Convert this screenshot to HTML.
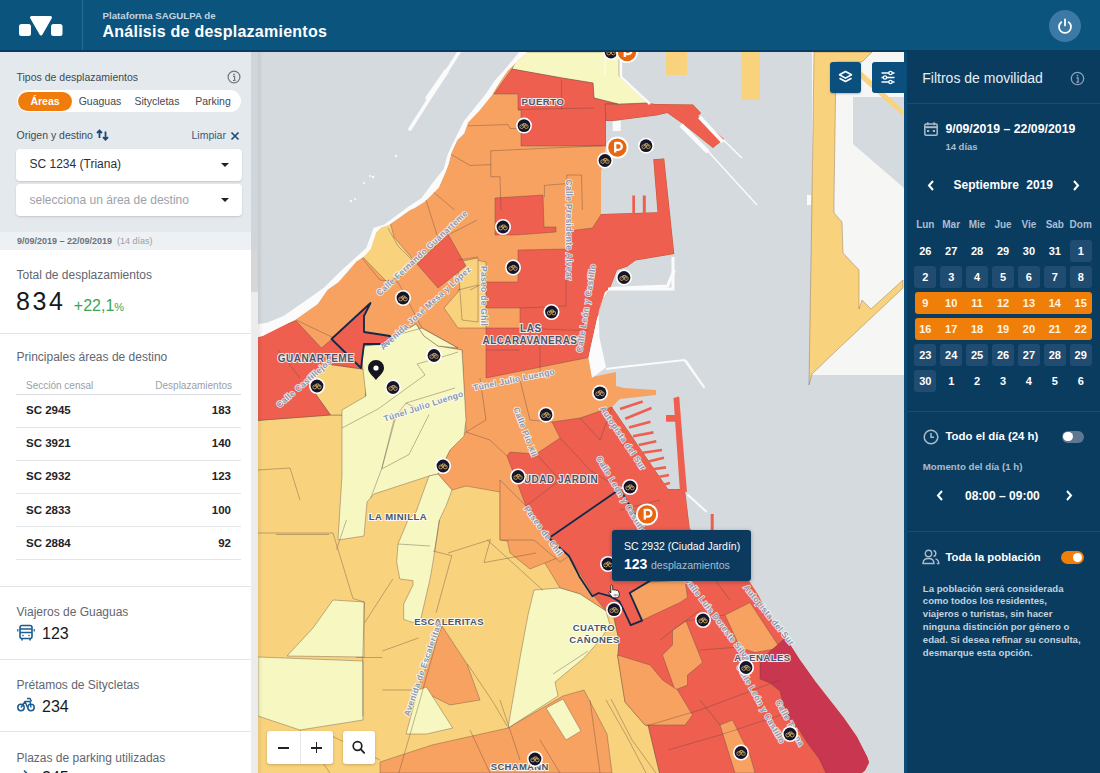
<!DOCTYPE html>
<html><head><meta charset="utf-8">
<style>
*{box-sizing:border-box;margin:0;padding:0}
html,body{width:1100px;height:773px;overflow:hidden;font-family:"Liberation Sans",sans-serif;background:#fff}
.abs{position:absolute}
#hdr{position:absolute;z-index:5;left:0;top:0;width:1100px;height:52px;background:#0b547e;border-bottom:2px solid #083d60}
#hdr .div{position:absolute;left:82px;top:0;width:1px;height:50px;background:#2a6c99}
#hdr .t1{position:absolute;left:102.5px;top:11.2px;font-size:9.7px;line-height:1;font-weight:bold;color:#c3d3e2;white-space:nowrap}
#hdr .t2{position:absolute;left:102.5px;top:24px;font-size:16px;line-height:1;letter-spacing:.25px;font-weight:bold;color:#fff;white-space:nowrap}
#pwr{position:absolute;left:1048.5px;top:10px;width:32px;height:32px;border-radius:50%;background:#3b7aa5}
#left{position:absolute;left:0;top:0;width:251px;height:773px;background:#fff;overflow:hidden}
#left .filt{position:absolute;left:0;top:52px;width:251px;height:180px;background:#e4e9ee}
#left .strip{position:absolute;left:0;top:232px;width:251px;height:18px;background:#edf1f4}
.t{position:absolute;line-height:1;white-space:nowrap}
#sb{position:absolute;left:251px;top:52px;width:7px;height:721px;background:#ececec}
#map{position:absolute;left:258px;top:52px;width:646px;height:721px;overflow:hidden;background:#d5dade}
#right{position:absolute;left:904px;top:0;width:196px;height:773px;background:#0a3c5f}
#rb{position:absolute;left:904px;top:52px;width:3px;height:721px;background:#0b4b77;z-index:2}
.lbl{font-size:10.5px;color:#414952}
.sel{position:absolute;left:16px;width:226px;height:32px;background:#fff;border-radius:4px;box-shadow:0 1px 2px rgba(0,0,0,.15)}
.sel span{position:absolute;left:13.5px;top:9.8px;font-size:12px;line-height:1;color:#2a2f36}
.sel i{position:absolute;right:13px;top:14px;width:0;height:0;border-left:4px solid transparent;border-right:4px solid transparent;border-top:4px solid #222}
.sec{position:absolute;left:16px;font-size:12px;color:#5f6670;white-space:nowrap}
.hr{position:absolute;left:0;width:251px;height:1px;background:#e2e5e8}
.row{position:absolute;left:16px;width:225px;height:33px;border-bottom:1px solid #e3e6e9}
.row b{position:absolute;left:10px;top:10.8px;font-size:11.5px;color:#1f2328;line-height:1}
.row b.r{left:auto;right:10px}
.rp{color:#e6eef5}
.cal{position:absolute;width:22px;height:22px;border-radius:3px;font-size:11px;font-weight:bold;color:#fff;text-align:center;line-height:22px}
.cal.b{background:#1f4c70}
.dh{position:absolute;top:219px;width:26px;text-align:center;font-size:10px;font-weight:bold;color:#a9bfd2}
.orow{position:absolute;left:915px;width:177px;height:22px;background:#f07f0a;border-radius:3px}
</style></head>
<body>
<div id="hdr">
  <svg class="abs" style="left:0;top:0" width="82" height="50" viewBox="0 0 82 50">
    <rect x="19" y="24" width="12" height="12" rx="2.5" fill="#fff"/>
    <rect x="51" y="24" width="11.5" height="12" rx="2.5" fill="#fff"/>
    <path d="M31.5 17.5 L50.5 17.5 L41 34 Z" fill="#fff" stroke="#fff" stroke-width="3" stroke-linejoin="round"/>
  </svg>
  <div class="div"></div>
  <div class="t1">Plataforma SAGULPA de</div>
  <div class="t2">Análisis de desplazamientos</div>
  <div id="pwr">
    <svg width="32" height="32" viewBox="0 0 32 32"><path d="M12.3 12.2 A6 6 0 1 0 19.7 12.2" fill="none" stroke="#fff" stroke-width="1.8" stroke-linecap="round"/><line x1="16" y1="9.4" x2="16" y2="15.4" stroke="#fff" stroke-width="1.8" stroke-linecap="round"/></svg>
  </div>
</div>

<div id="left">
  <div class="filt"></div>
  <div class="strip"></div>
  <div class="t" style="left:16.5px;top:71.8px;font-size:10.5px;color:#414952">Tipos de desplazamientos</div>
  <svg class="abs" style="left:227px;top:70px" width="14" height="14" viewBox="0 0 14 14"><circle cx="7" cy="7" r="5.9" fill="none" stroke="#6e767e" stroke-width="1.2"/><circle cx="7" cy="4.3" r=".9" fill="#6e767e"/><path d="M6 6.3h1.6v4.2M6 10.5h2.6" stroke="#6e767e" stroke-width="1.2" fill="none"/></svg>
  <div class="abs" style="left:17px;top:90px;width:224px;height:22px;border-radius:11px;background:#fff"></div>
  <div class="abs" style="left:18px;top:92px;width:54px;height:19px;border-radius:10px;background:#f07d0b"></div>
  <div class="t" style="left:18px;width:54px;text-align:center;top:96px;font-size:10.5px;font-weight:bold;color:#fff">Áreas</div>
  <div class="t" style="left:70px;width:60px;text-align:center;top:96px;font-size:10.5px;color:#414952">Guaguas</div>
  <div class="t" style="left:126px;width:62px;text-align:center;top:96px;font-size:10.5px;color:#414952">Sitycletas</div>
  <div class="t" style="left:183px;width:60px;text-align:center;top:96px;font-size:10.5px;color:#414952">Parking</div>
  <div class="t" style="left:16.5px;top:130px;font-size:10.5px;color:#414952">Origen y destino</div>
  <svg class="abs" style="left:96px;top:129px" width="14" height="12" viewBox="0 0 14 12"><path d="M3.5 9V1.5M1 4l2.5-2.5L6 4M9.5 2.5v8.5M7 8.2l2.5 2.5L12 8.2" stroke="#184a78" stroke-width="1.8" fill="none"/></svg>
  <div class="t" style="left:191.5px;top:130px;font-size:10.5px;color:#3b5a7b">Limpiar</div>
  <svg class="abs" style="left:230px;top:131px" width="10" height="10" viewBox="0 0 10 10"><path d="M1.5 1.5l7 7M8.5 1.5l-7 7" stroke="#184a78" stroke-width="1.6"/></svg>
  <div class="sel" style="top:148.5px"><span>SC 1234 (Triana)</span><i></i></div>
  <div class="sel" style="top:184px"><span style="color:#9ba1a8">selecciona un área de destino</span><i></i></div>
  <div class="t" style="left:17px;top:237.2px;font-size:9px;font-weight:bold;color:#6b737b">9/09/2019 – 22/09/2019 <span style="font-weight:normal;color:#9aa0a6">&nbsp;(14 días)</span></div>
  <div class="t" style="left:16.5px;top:269.3px;font-size:12px;color:#5f6670">Total de desplazamientos</div>
  <div class="t" style="left:16px;top:289.4px;font-size:25px;color:#16191d;letter-spacing:2.6px">834</div>
  <div class="t" style="left:73.8px;top:297.5px;font-size:16px;color:#3aa655">+22,1<span style="font-size:11px">%</span></div>
  <div class="hr" style="top:332.5px"></div>
  <div class="t" style="left:16.5px;top:351.4px;font-size:12px;color:#5f6670">Principales áreas de destino</div>
  <div class="t" style="left:26px;top:381px;font-size:10px;color:#9aa0a6">Sección censal</div>
  <div class="t" style="left:151px;width:81px;text-align:right;top:381px;font-size:10px;color:#9aa0a6">Desplazamientos</div>
  <div class="abs" style="left:16px;top:393.5px;width:225px;height:1.5px;background:#d9dde1"></div>
  <div class="row" style="top:394.5px"><b >SC 2945</b><b class="r" >183</b></div>
  <div class="row" style="top:427.6px"><b >SC 3921</b><b class="r" >140</b></div>
  <div class="row" style="top:460.7px"><b >SC 2932</b><b class="r" >123</b></div>
  <div class="row" style="top:493.8px"><b >SC 2833</b><b class="r" >100</b></div>
  <div class="row" style="top:526.9px"><b >SC 2884</b><b class="r" >92</b></div>
  
  <div class="hr" style="top:586px"></div>
  <div class="t" style="left:16.5px;top:605.5px;font-size:12px;color:#5f6670">Viajeros de Guaguas</div>
  <svg class="abs" style="left:17px;top:624px" width="18" height="17" viewBox="0 0 18 17"><rect x="3" y="1.5" width="12" height="13" rx="2" fill="none" stroke="#1b5c91" stroke-width="1.6"/><path d="M3 8.5h12M3 5h12" stroke="#1b5c91" stroke-width="1.4"/><path d="M5 14.5v2M13 14.5v2" stroke="#1b5c91" stroke-width="1.6"/><path d="M.8 5v2.5M17.2 5v2.5" stroke="#1b5c91" stroke-width="1.2"/><circle cx="6" cy="11.5" r=".8" fill="#1b5c91"/><circle cx="12" cy="11.5" r=".8" fill="#1b5c91"/></svg>
  <div class="t" style="left:42px;top:625.8px;font-size:16px;color:#16191d">123</div>
  <div class="hr" style="top:659px"></div>
  <div class="t" style="left:16.5px;top:678.5px;font-size:12px;color:#5f6670">Prétamos de Sitycletas</div>
  <svg class="abs" style="left:17px;top:697px" width="18" height="15" viewBox="0 0 18 15"><circle cx="4" cy="10.5" r="3.2" fill="none" stroke="#1b5c91" stroke-width="1.5"/><circle cx="14" cy="10.5" r="3.2" fill="none" stroke="#1b5c91" stroke-width="1.5"/><path d="M4 10.5l4-6h5l1 6M8 4.5l2.5 6M10 1.5h3l1.5 3" stroke="#1b5c91" stroke-width="1.4" fill="none"/></svg>
  <div class="t" style="left:42px;top:698.5px;font-size:16px;color:#16191d">234</div>
  <div class="hr" style="top:731px"></div>
  <div class="t" style="left:16.5px;top:751.8px;font-size:12px;color:#5f6670">Plazas de parking utilizadas</div>
  <div class="t" style="left:42px;top:770.3px;font-size:16px;color:#16191d">245</div>
  <svg class="abs" style="left:21px;top:768.5px" width="18" height="15" viewBox="0 0 18 15"><path d="M3 1.5l4 4" stroke="#1b5c91" stroke-width="1.6"/></svg>
</div>
<div class="abs" style="left:258px;top:52px;width:5px;height:721px;background:linear-gradient(90deg,rgba(0,0,0,.07),rgba(0,0,0,0));z-index:2"></div>
<div id="sb"><div class="abs" style="left:0;top:0;width:7px;height:198px;background:#cfd5da"></div><div class="abs" style="left:0;top:198px;width:7px;height:42px;background:#d6d6d6"></div></div>

<div id="map"><svg width="646" height="721" viewBox="258 52 646 721" style="position:absolute;left:0;top:0">
<rect x="258" y="52" width="646" height="721" fill="#d5dade"/>
<polygon points="834,52 904,52 904,375 812,375 812,52" fill="#f6f6f5"/>
<polygon points="853,97 904,97 904,188 853,144" fill="#d5dade"/>
<polygon points="852,146 904,192 904,280 862,300 859,270 843,253 842,222 834,213" fill="#d5dade" opacity="0"/>
<polygon points="814,52 872,52 862,62 836,62 834,200 834,213 842,222 843,253 859,270 859,309 862,300 871,309 903,280 903,288 837,350 812,374 809,385 812,200" fill="#f9d27d" stroke="rgba(95,70,60,.55)" stroke-width=".6"/>
<polygon points="862,72 903,110 903,116 858,76" fill="#f9d27d"/>
<rect x="666" y="50" width="21" height="25" fill="#f9d27d"/>
<rect x="741" y="50" width="19" height="50" fill="#f9d27d"/>
<polygon points="527,52 619,52 619,76 648,103 655.3,104 693,104.6 701,113 698,116 724,139 713,148 683,124 667.3,113 656.4,115.5 612.7,121 606,121 606,146 601,172 601,214 657.5,212.3 653.3,159.3 664.2,158.4 674.3,254 635.5,260.5 627,266.8 617,270 610,288.5 603.6,298.6 597,318.8 591,345.7 588.5,357.5 592,377 616,372 616,386 624,388 656,390 656,395 620,399 612,407 668,489 684,489 676,397.5 679.6,397.5 684.3,480 685.4,493.2 689.8,528.4 749.2,581.2 758,594.4 766.8,612 777.8,629.6 785.7,637.8 799.6,659.6 815.4,681.4 829.3,699.2 843.2,717 857,736.8 867,756.6 869,762.6 865,770.5 859,775 256,775 256,337.5 262.6,335.9 278,328.2 295.6,319.4 317.6,304 327.5,289.7 338.5,282 349,270 356.3,261.6 364.4,256.2 370.8,249 373.5,240.8 376.2,232.6 381.6,227.2 388,225.4 398.8,218 410,210 414.6,208 425.2,201.2 434,192.4 438.8,187.6 445.6,172 448.5,164.3 451.5,152.6 457.3,140 464.1,133.4 468,122.6 479.7,110.2 492,95 496.2,87.8 502.6,78 507.8,70.4 512.5,66.3 527,52" fill="#f8a262"/>
<clipPath id="landclip"><polygon points="527,52 619,52 619,76 648,103 655.3,104 693,104.6 701,113 698,116 724,139 713,148 683,124 667.3,113 656.4,115.5 612.7,121 606,121 606,146 601,172 601,214 657.5,212.3 653.3,159.3 664.2,158.4 674.3,254 635.5,260.5 627,266.8 617,270 610,288.5 603.6,298.6 597,318.8 591,345.7 588.5,357.5 592,377 616,372 616,386 624,388 656,390 656,395 620,399 612,407 668,489 684,489 676,397.5 679.6,397.5 684.3,480 685.4,493.2 689.8,528.4 749.2,581.2 758,594.4 766.8,612 777.8,629.6 785.7,637.8 799.6,659.6 815.4,681.4 829.3,699.2 843.2,717 857,736.8 867,756.6 869,762.6 865,770.5 859,775 256,775 256,337.5 262.6,335.9 278,328.2 295.6,319.4 317.6,304 327.5,289.7 338.5,282 349,270 356.3,261.6 364.4,256.2 370.8,249 373.5,240.8 376.2,232.6 381.6,227.2 388,225.4 398.8,218 410,210 414.6,208 425.2,201.2 434,192.4 438.8,187.6 445.6,172 448.5,164.3 451.5,152.6 457.3,140 464.1,133.4 468,122.6 479.7,110.2 492,95 496.2,87.8 502.6,78 507.8,70.4 512.5,66.3 527,52"/></clipPath><g clip-path="url(#landclip)">
<polygon points="250,421 330.5,415 345,415 365,402 366.7,371.5 362,369 364,346 386,344 390,340 416,324 424,336 438,346 462,350 466,432 450,450 442,466 438,474 452,490 466,486 500,492 500,540 534,545 560,588 580,594 606,611 614,618 619,640 618,656 645,712 660,775 256,775" fill="#f9d27d" stroke="rgba(95,70,60,.55)" stroke-width=".7" stroke-linejoin="round"/>
<polygon points="327,364 362,369 366.7,371.5 365,402 345,415 330.5,415 307,382" fill="#f9d27d" stroke="rgba(95,70,60,.55)" stroke-width=".7" stroke-linejoin="round"/>
<polygon points="384,218 390,222 394,237 412.6,259 400,277 386,281 358,252" fill="#f9d27d" stroke="rgba(95,70,60,.55)" stroke-width=".7" stroke-linejoin="round"/>
<polygon points="444,308 458,292 476,260 486,262 486,328 458,328" fill="#f9d27d" stroke="rgba(95,70,60,.55)" stroke-width=".7" stroke-linejoin="round"/>
<polygon points="458,262 478,258 478,322 462,320" fill="#f9d27d" stroke="rgba(95,70,60,.55)" stroke-width=".7" stroke-linejoin="round"/>
<polygon points="442,626 467,664 480,700 450,705 430,695 418,688" fill="#f8a262" stroke="rgba(95,70,60,.55)" stroke-width=".7" stroke-linejoin="round"/>
<polygon points="380,773 380,762 432,745 508,728 563,696 584,690 607,734 612,773" fill="#f8a262" stroke="rgba(95,70,60,.55)" stroke-width=".7" stroke-linejoin="round"/>
<polygon points="503,520 536,520 562,556 530,569 510,553" fill="#f8a262" stroke="rgba(95,70,60,.55)" stroke-width=".7" stroke-linejoin="round"/>
<polygon points="500,480 526,506 549,538 569,556 560,562 534,540 500,540" fill="#f8a262" stroke="rgba(95,70,60,.55)" stroke-width=".7" stroke-linejoin="round"/>
<polygon points="617.5,655 650,665 662.5,680 677.5,690 692.5,715 685,725 645,725 625,702" fill="#f8a262" stroke="rgba(95,70,60,.55)" stroke-width=".7" stroke-linejoin="round"/>
<polygon points="364,346 386,344 390,340 416,324 424,336 438,346 462,350 466,420 464,436 450,450 442,466 438,474 429,476 374,494 367,502 364,536 338,540 342,475 342,410 366,396 362,360" fill="#f7f7c2" stroke="rgba(95,70,60,.55)" stroke-width=".7" stroke-linejoin="round"/>
<polygon points="429,476 438,474 452,490 446,506 439.4,520 433,562 430,579 420.7,619.4 413,622.5 403.7,619.4 403.7,604 413,585 413,580.6 399.8,579 396.7,562 398,544 408,520 416,512" fill="#f7f7c2" stroke="rgba(95,70,60,.55)" stroke-width=".7" stroke-linejoin="round"/>
<polygon points="333,600 364,602 364,657 287,656 313,628" fill="#f7f7c2" stroke="rgba(95,70,60,.55)" stroke-width=".7" stroke-linejoin="round"/>
<polygon points="258,657 363,661 363,720 300,730 258,716" fill="#f7f7c2" stroke="rgba(95,70,60,.55)" stroke-width=".7" stroke-linejoin="round"/>
<polygon points="534,590 560,588 580,594 606,611 610,625 600,640 584,658 555,682 558,696 508,728 520,658 528,615" fill="#f7f7c2" stroke="rgba(95,70,60,.55)" stroke-width=".7" stroke-linejoin="round"/>
<polygon points="418,690 426.5,687 452.7,728 426.5,734 406,734" fill="#f7f7c2" stroke="rgba(95,70,60,.55)" stroke-width=".7" stroke-linejoin="round"/>
<polygon points="546,708 563,699 581,731 566,740" fill="#f7f7c2" stroke="rgba(95,70,60,.55)" stroke-width=".7" stroke-linejoin="round"/>
<polygon points="386,338 422,328 458,348 438,346 424,336 416,324 390,340" fill="#f7f7c2" stroke="rgba(95,70,60,.55)" stroke-width=".7" stroke-linejoin="round"/>
<polygon points="521,52 619,52 619,76 648,103 618,104 594,98 593,83 562,78 512,69" fill="#f7f7c2" stroke="rgba(95,70,60,.55)" stroke-width=".7" stroke-linejoin="round"/>
<polygon points="512,69 562,78 593,83 594,98 618,104 606,104 606,146 521,146 521,110 518,110 518,94 494,94" fill="#ee5f50" stroke="rgba(95,70,60,.55)" stroke-width=".7" stroke-linejoin="round"/>
<polygon points="605,104 618,104.5 648,103 655.3,104 693,104.6 701,113 698,116 724,139 713,148 683,124 667.3,113 656.4,115.5 612.7,121 606,121" fill="#ee5f50" stroke="rgba(95,70,60,.55)" stroke-width=".7" stroke-linejoin="round"/>
<polygon points="495,198 543,195 544,227 556,227 556,232 516,235 495,235" fill="#ee5f50" stroke="rgba(95,70,60,.55)" stroke-width=".7" stroke-linejoin="round"/>
<polygon points="417,264 448,234 466,266 438,288" fill="#ee5f50" stroke="rgba(95,70,60,.55)" stroke-width=".7" stroke-linejoin="round"/>
<polygon points="518,250 568,249 568,231 592.5,228 601.5,214 657.5,212.3 653.3,159.3 664.2,158.4 674.3,254 635.5,260.5 627,266.8 617,270 610,288.5 603.6,298.6 597,318.8 591,345.7 588.5,357.5 486,378 486,328 520,328 520,308 486,308 486,282 518,282" fill="#ee5f50" stroke="rgba(95,70,60,.55)" stroke-width=".7" stroke-linejoin="round"/>
<polygon points="250,337 296,320.8 321.4,348 332,339 362,369 327,364 307,382 330.5,415 250,421" fill="#ee5f50" stroke="rgba(95,70,60,.55)" stroke-width=".7" stroke-linejoin="round"/>
<polygon points="370.5,303 364,316 364,332 390,336 391,340 386,344 364,344 361,368 331.5,339" fill="#ee5f50" stroke="rgba(95,70,60,.55)" stroke-width=".7" stroke-linejoin="round"/>
<polygon points="612,407 668,489 684,489 686,497 689,524 750,581 768,605 786,635 804,665 822,695 840,722 858,743 868,758 870,767 864,773 660,775 645,712 618,656 619,640 614,618 606,611 594,596 569,556 549,538 526,506 507,456 510,452 536,454 560,438 552,422 580,418" fill="#ee5f50" stroke="rgba(95,70,60,.55)" stroke-width=".7" stroke-linejoin="round"/>
<polygon points="630,592.5 650,582 685,580 687.5,597.5 680,602.5 642.5,620" fill="#f8a262" stroke="rgba(95,70,60,.55)" stroke-width=".7" stroke-linejoin="round"/>
<polygon points="725,615 750,602.5 780,648 755,652.5 740,647.5" fill="#f8a262" stroke="rgba(95,70,60,.55)" stroke-width=".7" stroke-linejoin="round"/>
<polygon points="662.5,655 672.5,645 672.5,630 686,621 702.5,662.5 687.5,675 687.5,685 675,690" fill="#f8a262" stroke="rgba(95,70,60,.55)" stroke-width=".7" stroke-linejoin="round"/>
<polygon points="617.5,655 650,665 662.5,680 677.5,690 692.5,715 685,725 645,725 625,702" fill="#f8a262" stroke="rgba(95,70,60,.55)" stroke-width=".7" stroke-linejoin="round"/>
<polygon points="720,725 732.5,720 750,755 755,773 735,773" fill="#f8a262" stroke="rgba(95,70,60,.55)" stroke-width=".7" stroke-linejoin="round"/>
<polygon points="785.7,637.8 760,660 760,679 770,683 780,691 782,699 790,719 800,731 807.5,743 819,758.6 827,775 870,775 900,740 800,630" fill="#c8364f" stroke="rgba(95,70,60,.55)" stroke-width=".7" stroke-linejoin="round"/>
</g>
<polygon points="520,51 505,69.2 495,80.3 485,95 464,121 454.4,140 447.6,154.6 443.7,169 432,183.7 421.4,198.3 410,205.4 384.3,224.5 373.5,228 370,238 366.2,248 357.2,256.2 341.8,270 324.2,287.5 305.5,300.7 283.5,316 267,322.7 256,324.4 256,337.5 262.6,335.9 278,328.2 295.6,319.4 317.6,304 327.5,289.7 338.5,282 349,270 356.3,261.6 364.4,256.2 370.8,249 373.5,240.8 376.2,232.6 381.6,227.2 388,225.4 398.8,218 410,210 414.6,208 425.2,201.2 434,192.4 438.8,187.6 445.6,172 448.5,164.3 451.5,152.6 457.3,140 464.1,133.4 468,122.6 479.7,110.2 492,95 496.2,87.8 502.6,78 507.8,70.4 512.5,66.3 527,52" fill="#fbfbfb"/>
<polyline points="561.6,80 561.6,109.4" fill="none" stroke="rgba(95,70,60,.55)" stroke-width=".7"/>
<polyline points="519,109.4 594,108" fill="none" stroke="rgba(95,70,60,.55)" stroke-width=".7"/>
<polyline points="468,125.8 508,124.6 510,128.4 521,129" fill="none" stroke="rgba(95,70,60,.55)" stroke-width=".7"/>
<polyline points="490.8,150.8 603,145.6" fill="none" stroke="rgba(95,70,60,.55)" stroke-width=".7"/>
<polyline points="451,154.3 470,165.5 490.8,164.6" fill="none" stroke="rgba(95,70,60,.55)" stroke-width=".7"/>
<polyline points="490.8,150.8 490.8,176.7 500,176.7 501,210" fill="none" stroke="rgba(95,70,60,.55)" stroke-width=".7"/>
<polyline points="544.4,185.4 566.8,183.6 566.8,175 581.5,175 582.4,210" fill="none" stroke="rgba(95,70,60,.55)" stroke-width=".7"/>
<polyline points="544.4,185.4 544.4,197" fill="none" stroke="rgba(95,70,60,.55)" stroke-width=".7"/>
<polyline points="433.8,192.3 454.5,210" fill="none" stroke="rgba(95,70,60,.55)" stroke-width=".7"/>
<polyline points="388,228 398,246 416,264" fill="none" stroke="rgba(95,70,60,.55)" stroke-width=".7"/>
<polyline points="362,258 380,280 398,282" fill="none" stroke="rgba(95,70,60,.55)" stroke-width=".7"/>
<polyline points="426,200 438,238" fill="none" stroke="rgba(95,70,60,.55)" stroke-width=".7"/>
<polyline points="450,234 477,220" fill="none" stroke="rgba(95,70,60,.55)" stroke-width=".7"/>
<polyline points="458,260 478,257" fill="none" stroke="rgba(95,70,60,.55)" stroke-width=".7"/>
<polyline points="394.4,418 381.6,469 370.7,498" fill="none" stroke="rgba(95,70,60,.55)" stroke-width=".7"/>
<polyline points="381.6,469 409,454.5 429,414.5" fill="none" stroke="rgba(95,70,60,.55)" stroke-width=".7"/>
<polyline points="276,534.5 329,534.5" fill="none" stroke="rgba(95,70,60,.55)" stroke-width=".7"/>
<polyline points="258,533 333,533 338,549.5 353,598.6 364.4,602" fill="none" stroke="rgba(95,70,60,.55)" stroke-width=".7"/>
<polyline points="336.6,549.5 346.4,520" fill="none" stroke="rgba(95,70,60,.55)" stroke-width=".7"/>
<polyline points="364.4,602 362.8,657.5 362.8,716.4" fill="none" stroke="rgba(95,70,60,.55)" stroke-width=".7"/>
<polyline points="356,657.5 382.4,657.5" fill="none" stroke="rgba(95,70,60,.55)" stroke-width=".7"/>
<polyline points="392.8,579 364.8,622.5" fill="none" stroke="rgba(95,70,60,.55)" stroke-width=".7"/>
<polyline points="398,544 430,546" fill="none" stroke="rgba(95,70,60,.55)" stroke-width=".7"/>
<polyline points="433,551 451.8,555.7 436,613" fill="none" stroke="rgba(95,70,60,.55)" stroke-width=".7"/>
<polyline points="441,625 420,700 398.8,773" fill="none" stroke="rgba(95,70,60,.55)" stroke-width=".7"/>
<polyline points="418.4,638 382.4,651" fill="none" stroke="rgba(95,70,60,.55)" stroke-width=".7"/>
<polyline points="382.4,690 412,690" fill="none" stroke="rgba(95,70,60,.55)" stroke-width=".7"/>
<polyline points="439.4,520 434.7,551" fill="none" stroke="rgba(95,70,60,.55)" stroke-width=".7"/>
<polyline points="448,553 490.4,539.6 484,562.6 536,553" fill="none" stroke="rgba(95,70,60,.55)" stroke-width=".7"/>
<polyline points="487,539.6 543,590.4" fill="none" stroke="rgba(95,70,60,.55)" stroke-width=".7"/>
<polyline points="467.5,664 493.7,703 507,726" fill="none" stroke="rgba(95,70,60,.55)" stroke-width=".7"/>
<polyline points="588,651 553,674" fill="none" stroke="rgba(95,70,60,.55)" stroke-width=".7"/>
<polyline points="258,470 290,468 300,500" fill="none" stroke="rgba(95,70,60,.55)" stroke-width=".7"/>
<polyline points="300,730 330,773" fill="none" stroke="rgba(95,70,60,.55)" stroke-width=".7"/>
<polyline points="330,735 380,760" fill="none" stroke="rgba(95,70,60,.55)" stroke-width=".7"/>
<polyline points="470,730 490,773" fill="none" stroke="rgba(95,70,60,.55)" stroke-width=".7"/>
<polyline points="540,740 560,773" fill="none" stroke="rgba(95,70,60,.55)" stroke-width=".7"/>
<polyline points="500,700 520,760" fill="none" stroke="rgba(95,70,60,.55)" stroke-width=".7"/>
<polyline points="590,700 600,773" fill="none" stroke="rgba(95,70,60,.55)" stroke-width=".7"/>
<polyline points="466,432 490,440 507,456" fill="none" stroke="rgba(95,70,60,.55)" stroke-width=".7"/>
<polyline points="480,378 486,420 466,432" fill="none" stroke="rgba(95,70,60,.55)" stroke-width=".7"/>
<polyline points="520,380 530,420 552,422" fill="none" stroke="rgba(95,70,60,.55)" stroke-width=".7"/>
<polyline points="536,454 560,480 526,506" fill="none" stroke="rgba(95,70,60,.55)" stroke-width=".7"/>
<polyline points="560,438 590,470 620,489" fill="none" stroke="rgba(95,70,60,.55)" stroke-width=".7"/>
<polyline points="580,418 600,440 612,407" fill="none" stroke="rgba(95,70,60,.55)" stroke-width=".7"/>
<polyline points="640,560 690,540" fill="none" stroke="rgba(95,70,60,.55)" stroke-width=".7"/>
<polyline points="620,510 660,500" fill="none" stroke="rgba(95,70,60,.55)" stroke-width=".7"/>
<polyline points="700,560 730,600" fill="none" stroke="rgba(95,70,60,.55)" stroke-width=".7"/>
<polyline points="660,640 700,610" fill="none" stroke="rgba(95,70,60,.55)" stroke-width=".7"/>
<polyline points="486,282 470,290" fill="none" stroke="rgba(95,70,60,.55)" stroke-width=".7"/>
<polyline points="520,308 566,306" fill="none" stroke="rgba(95,70,60,.55)" stroke-width=".7"/>
<polyline points="566,270 566,306" fill="none" stroke="rgba(95,70,60,.55)" stroke-width=".7"/>
<polyline points="520,328 566,330 588,330" fill="none" stroke="rgba(95,70,60,.55)" stroke-width=".7"/>
<polyline points="486,350 520,350" fill="none" stroke="rgba(95,70,60,.55)" stroke-width=".7"/>
<polyline points="540,378 540,345" fill="none" stroke="rgba(95,70,60,.55)" stroke-width=".7"/>
<polyline points="342,428 378,409 425,375 417,364 452,354 458,352" fill="none" stroke="rgba(95,70,60,.55)" stroke-width=".7"/>
<polyline points="382,468 396,416 406,403 420,410" fill="none" stroke="rgba(95,70,60,.55)" stroke-width=".7"/>
<polyline points="278,350 300,378" fill="none" stroke="rgba(95,70,60,.55)" stroke-width=".7"/>
<polyline points="406,403 455,388" fill="none" stroke="rgba(95,70,60,.55)" stroke-width=".7"/>
<polyline points="646,726 700,710 780,680" fill="none" stroke="rgba(95,70,60,.55)" stroke-width=".7"/>
<polyline points="668,750 720,735 790,712" fill="none" stroke="rgba(95,70,60,.55)" stroke-width=".7"/>
<polyline points="606,700 626,735 646,773" fill="none" stroke="rgba(95,70,60,.55)" stroke-width=".7"/>
<polyline points="611,699 632,740 656,773" fill="none" stroke="rgba(95,70,60,.55)" stroke-width=".7"/>
<polyline points="686,621 702,618 725,615" fill="none" stroke="rgba(95,70,60,.55)" stroke-width=".7"/>
<polyline points="700,650 740,647" fill="none" stroke="rgba(95,70,60,.55)" stroke-width=".7"/>
<polyline points="720,725 700,700" fill="none" stroke="rgba(95,70,60,.55)" stroke-width=".7"/>
<polyline points="296,320 334,338" fill="none" stroke="rgba(95,70,60,.55)" stroke-width=".7"/>
<polyline points="422,328 458,348" fill="none" stroke="rgba(95,70,60,.55)" stroke-width=".7"/>
<polyline points="398,282 422,328" fill="none" stroke="rgba(95,70,60,.55)" stroke-width=".7"/>
<polyline points="458,290 478,285" fill="none" stroke="rgba(95,70,60,.55)" stroke-width=".7"/>
<line x1="620" y1="409" x2="642.7" y2="401.4" stroke="#ee5f50" stroke-width="2.6"/>
<line x1="625.2" y1="418.8" x2="651.5" y2="408" stroke="#ee5f50" stroke-width="2.6"/>
<line x1="629" y1="427.6" x2="650.5" y2="421.7" stroke="#ee5f50" stroke-width="2.6"/>
<line x1="633" y1="436.3" x2="653.4" y2="432.4" stroke="#ee5f50" stroke-width="2.6"/>
<line x1="638.8" y1="445" x2="656.3" y2="441.2" stroke="#ee5f50" stroke-width="2.6"/>
<line x1="642.7" y1="452.8" x2="662" y2="450" stroke="#ee5f50" stroke-width="2.6"/>
<line x1="648.5" y1="461.6" x2="664" y2="457.7" stroke="#ee5f50" stroke-width="2.6"/>
<line x1="652.4" y1="469.3" x2="666" y2="467.4" stroke="#ee5f50" stroke-width="2.6"/>
<line x1="658.3" y1="477" x2="669" y2="475" stroke="#ee5f50" stroke-width="2.6"/>
<line x1="662" y1="484.9" x2="670" y2="483" stroke="#ee5f50" stroke-width="2.6"/>
<polygon points="666,415 677.7,415 677.7,421.7 666,421.7" fill="#ee5f50"/>
<polygon points="673.5,398 679,396.5 687,492 680,492" fill="#ee5f50"/>
<rect x="632.3" y="195.5" width="2.7" height="19" fill="#ee5f50"/><rect x="642.8" y="195.5" width="3" height="19" fill="#ee5f50"/>
<rect x="710.7" y="514" width="3" height="16" fill="#ee5f50"/>
<polyline points="610,288.5 667.6,286 674.3,270" fill="none" stroke="#fbfbfb" stroke-width="3.2"/>
<polyline points="606,369 624,366.7 684.4,360 704.6,387.8" fill="none" stroke="#fbfbfb" stroke-width="2"/>
<polygon points="610,288.5 605,292 598.6,312 599.4,337.3 606,367.6 592,377.7 588.5,357.5 591,345.7 597,318.8 603.6,298.6" fill="#fbfbfb"/>
<polyline points="673,257 673,289 608,289" fill="none" stroke="#fbfbfb" stroke-width="3"/>
<polyline points="706,149 757,205" fill="none" stroke="#fbfbfb" stroke-width="1.5"/>
<polyline points="723.5,140 742,158" fill="none" stroke="#fbfbfb" stroke-width="1.5"/>
<polyline points="681,125 708,152" fill="none" stroke="#fbfbfb" stroke-width="4.5"/>
<polyline points="699.5,117 723,142" fill="none" stroke="#fbfbfb" stroke-width="4"/>
<polyline points="686,360 704,387" fill="none" stroke="#fbfbfb" stroke-width="1.3"/>
<polyline points="687.4,494.6 706.8,512" fill="none" stroke="#fbfbfb" stroke-width="2"/>
<polyline points="459,52 410,129" fill="none" stroke="#fbfbfb" stroke-width="3.5" stroke-linecap="round"/>
<rect x="807" y="195" width="4" height="10" fill="#fbfbfb"/>
<polyline points="446,72 428,98" fill="none" stroke="#fbfbfb" stroke-width="5" stroke-linecap="round"/>
<circle cx="396" cy="156" r="1.2" fill="#fbfbfb"/>
<circle cx="373" cy="177" r="1.3" fill="#fbfbfb"/>
<circle cx="370" cy="176" r="1" fill="#fbfbfb"/>
<circle cx="364" cy="183" r="1.1" fill="#fbfbfb"/>
<circle cx="351" cy="201" r="1.3" fill="#fbfbfb"/>
<circle cx="355" cy="199" r="1" fill="#fbfbfb"/>
<polyline points="621,60 621,77 650,104" fill="none" stroke="#fbfbfb" stroke-width="2.4"/>
<rect x="612.7" y="121" width="8" height="10" fill="#fbfbfb"/>
<polyline points="605,52 605,75" fill="none" stroke="#fbfbfb" stroke-width="1"/>
<polygon points="370.5,303 364,316 364,332 390,336 391,340 386,344 364,344 361,368 331.5,339" fill="none" stroke="#13294b" stroke-width="1.8" stroke-linejoin="round"/>
<polyline points="644,530 620,489 549,538 569,556 580,577.6 592.4,596.2 598.6,593 610,596.2 619.3,601.4 623.5,609.7 630.7,625.2 642,620.6 629.7,593 648.3,581.7 660,575" fill="none" stroke="#13294b" stroke-width="1.8" stroke-linejoin="round"/>
<text x="543" y="105" text-anchor="middle" font-size="9.5" font-weight="bold" letter-spacing="0.6" fill="#46566b" stroke="#fff" stroke-width="2" stroke-opacity=".85" paint-order="stroke">PUERTO</text>
<text x="531" y="332" text-anchor="middle" font-size="10" font-weight="bold" letter-spacing="0.6" fill="#46566b" stroke="#fff" stroke-width="2" stroke-opacity=".85" paint-order="stroke">LAS</text>
<text x="530" y="344" text-anchor="middle" font-size="10" font-weight="bold" letter-spacing="0.4" fill="#46566b" stroke="#fff" stroke-width="2" stroke-opacity=".85" paint-order="stroke">ALCARAVANERAS</text>
<text x="316" y="361.5" text-anchor="middle" font-size="10" font-weight="bold" letter-spacing="0.5" fill="#46566b" stroke="#fff" stroke-width="2" stroke-opacity=".85" paint-order="stroke">GUANARTEME</text>
<text x="398" y="519.5" text-anchor="middle" font-size="9.5" font-weight="bold" letter-spacing="0.5" fill="#46566b" stroke="#fff" stroke-width="2" stroke-opacity=".85" paint-order="stroke">LA MINILLA</text>
<text x="561" y="482.5" text-anchor="middle" font-size="10" font-weight="bold" letter-spacing="0.5" fill="#46566b" stroke="#fff" stroke-width="2" stroke-opacity=".85" paint-order="stroke">UDAD JARDIN</text>
<text x="449" y="624.5" text-anchor="middle" font-size="9.5" font-weight="bold" letter-spacing="0.3" fill="#46566b" stroke="#fff" stroke-width="2" stroke-opacity=".85" paint-order="stroke">ESCALERITAS</text>
<text x="594" y="631" text-anchor="middle" font-size="9.5" font-weight="bold" letter-spacing="0.4" fill="#46566b" stroke="#fff" stroke-width="2" stroke-opacity=".85" paint-order="stroke">CUATRO</text>
<text x="594.5" y="642.5" text-anchor="middle" font-size="9.5" font-weight="bold" letter-spacing="0.4" fill="#46566b" stroke="#fff" stroke-width="2" stroke-opacity=".85" paint-order="stroke">CAÑONES</text>
<text x="762.5" y="660.5" text-anchor="middle" font-size="9.5" font-weight="bold" letter-spacing="0.5" fill="#46566b" stroke="#fff" stroke-width="2" stroke-opacity=".85" paint-order="stroke">ARENALES</text>
<text x="519.7" y="769.5" text-anchor="middle" font-size="9.5" font-weight="bold" letter-spacing="0.3" fill="#46566b" stroke="#fff" stroke-width="2" stroke-opacity=".85" paint-order="stroke">SCHAMANN</text>
<text x="422" y="253" text-anchor="middle" dominant-baseline="central" font-size="8.5" font-weight="bold" letter-spacing=".3" fill="#8797b0" stroke="#fff" stroke-width="1.6" stroke-opacity=".8" paint-order="stroke" transform="rotate(-42.9 422 253)">Calle Fernando Guanarteme</text>
<text x="425.5" y="308" text-anchor="middle" dominant-baseline="central" font-size="8.5" font-weight="bold" letter-spacing=".3" fill="#8797b0" stroke="#fff" stroke-width="1.6" stroke-opacity=".8" paint-order="stroke" transform="rotate(-42.3 425.5 308)">Avenida José Mesa y López</text>
<text x="304" y="383" text-anchor="middle" dominant-baseline="central" font-size="8.5" font-weight="bold" letter-spacing=".3" fill="#8797b0" stroke="#fff" stroke-width="1.6" stroke-opacity=".8" paint-order="stroke" transform="rotate(-41 304 383)">Calle Castillejos</text>
<text x="423.5" y="406" text-anchor="middle" dominant-baseline="central" font-size="8.5" font-weight="bold" letter-spacing=".3" fill="#8797b0" stroke="#fff" stroke-width="1.6" stroke-opacity=".8" paint-order="stroke" transform="rotate(-18 423.5 406)">Túnel Julio Luengo</text>
<text x="514" y="379.5" text-anchor="middle" dominant-baseline="central" font-size="8.5" font-weight="bold" letter-spacing=".3" fill="#8797b0" stroke="#fff" stroke-width="1.6" stroke-opacity=".8" paint-order="stroke" transform="rotate(-11.5 514 379.5)">Túnel Julio Luengo</text>
<text x="484" y="296" text-anchor="middle" dominant-baseline="central" font-size="8.5" font-weight="bold" letter-spacing=".3" fill="#8797b0" stroke="#fff" stroke-width="1.6" stroke-opacity=".8" paint-order="stroke" transform="rotate(90 484 296)">Paseo de Ghil</text>
<text x="569" y="230" text-anchor="middle" dominant-baseline="central" font-size="8.5" font-weight="bold" letter-spacing=".3" fill="#8797b0" stroke="#fff" stroke-width="1.6" stroke-opacity=".8" paint-order="stroke" transform="rotate(90 569 230)">Calle Presidente Alvear</text>
<text x="586" y="308" text-anchor="middle" dominant-baseline="central" font-size="8.5" font-weight="bold" letter-spacing=".3" fill="#8797b0" stroke="#fff" stroke-width="1.6" stroke-opacity=".8" paint-order="stroke" transform="rotate(-81 586 308)">Calle León y Castillo</text>
<text x="525.5" y="432" text-anchor="middle" dominant-baseline="central" font-size="8.5" font-weight="bold" letter-spacing=".3" fill="#8797b0" stroke="#fff" stroke-width="1.6" stroke-opacity=".8" paint-order="stroke" transform="rotate(69 525.5 432)">Calle Pío XII</text>
<text x="623" y="438" text-anchor="middle" dominant-baseline="central" font-size="8.5" font-weight="bold" letter-spacing=".3" fill="#8797b0" stroke="#fff" stroke-width="1.6" stroke-opacity=".8" paint-order="stroke" transform="rotate(56 623 438)">Autopista del Sur</text>
<text x="621.5" y="495" text-anchor="middle" dominant-baseline="central" font-size="8.5" font-weight="bold" letter-spacing=".3" fill="#8797b0" stroke="#fff" stroke-width="1.6" stroke-opacity=".8" paint-order="stroke" transform="rotate(59 621.5 495)">Calle León y Castillo</text>
<text x="543.5" y="531" text-anchor="middle" dominant-baseline="central" font-size="8.5" font-weight="bold" letter-spacing=".3" fill="#8797b0" stroke="#fff" stroke-width="1.6" stroke-opacity=".8" paint-order="stroke" transform="rotate(54 543.5 531)">Paseo de Chil</text>
<text x="422.5" y="669" text-anchor="middle" dominant-baseline="central" font-size="8.5" font-weight="bold" letter-spacing=".3" fill="#8797b0" stroke="#fff" stroke-width="1.6" stroke-opacity=".8" paint-order="stroke" transform="rotate(-71 422.5 669)">Avenida de Escaleritas</text>
<text x="717.5" y="619" text-anchor="middle" dominant-baseline="central" font-size="8.5" font-weight="bold" letter-spacing=".3" fill="#8797b0" stroke="#fff" stroke-width="1.6" stroke-opacity=".8" paint-order="stroke" transform="rotate(52.8 717.5 619)">Calle Luis Doreste Silva</text>
<text x="769" y="615" text-anchor="middle" dominant-baseline="central" font-size="8.5" font-weight="bold" letter-spacing=".3" fill="#8797b0" stroke="#fff" stroke-width="1.6" stroke-opacity=".8" paint-order="stroke" transform="rotate(51 769 615)">Autopista del Sur</text>
<text x="761" y="704" text-anchor="middle" dominant-baseline="central" font-size="8.5" font-weight="bold" letter-spacing=".3" fill="#8797b0" stroke="#fff" stroke-width="1.6" stroke-opacity=".8" paint-order="stroke" transform="rotate(60.5 761 704)">Calle León y Castillo</text>
<text x="790" y="723" text-anchor="middle" dominant-baseline="central" font-size="8.5" font-weight="bold" letter-spacing=".3" fill="#8797b0" stroke="#fff" stroke-width="1.6" stroke-opacity=".8" paint-order="stroke" transform="rotate(62 790 723)">Calle Triana</text>
<g transform="translate(611 52)"><circle r="8" fill="#fff"/><circle r="6.4" fill="#16142a"/><g fill="none" stroke="#c7a75a" stroke-width=".9"><circle cx="-2.3" cy="1" r="1.9"/><circle cx="2.3" cy="1" r="1.9"/><path d="M-2.3 1l1.5-3h2.6l.5 3M-.8-2l1.6 3"/></g></g>
<g transform="translate(524 125.6)"><circle r="8" fill="#fff"/><circle r="6.4" fill="#16142a"/><g fill="none" stroke="#c7a75a" stroke-width=".9"><circle cx="-2.3" cy="1" r="1.9"/><circle cx="2.3" cy="1" r="1.9"/><path d="M-2.3 1l1.5-3h2.6l.5 3M-.8-2l1.6 3"/></g></g>
<g transform="translate(605 160.5)"><circle r="8" fill="#fff"/><circle r="6.4" fill="#16142a"/><g fill="none" stroke="#c7a75a" stroke-width=".9"><circle cx="-2.3" cy="1" r="1.9"/><circle cx="2.3" cy="1" r="1.9"/><path d="M-2.3 1l1.5-3h2.6l.5 3M-.8-2l1.6 3"/></g></g>
<g transform="translate(646 145.7)"><circle r="8" fill="#fff"/><circle r="6.4" fill="#16142a"/><g fill="none" stroke="#c7a75a" stroke-width=".9"><circle cx="-2.3" cy="1" r="1.9"/><circle cx="2.3" cy="1" r="1.9"/><path d="M-2.3 1l1.5-3h2.6l.5 3M-.8-2l1.6 3"/></g></g>
<g transform="translate(503 227)"><circle r="8" fill="#fff"/><circle r="6.4" fill="#16142a"/><g fill="none" stroke="#c7a75a" stroke-width=".9"><circle cx="-2.3" cy="1" r="1.9"/><circle cx="2.3" cy="1" r="1.9"/><path d="M-2.3 1l1.5-3h2.6l.5 3M-.8-2l1.6 3"/></g></g>
<g transform="translate(513 267.5)"><circle r="8" fill="#fff"/><circle r="6.4" fill="#16142a"/><g fill="none" stroke="#c7a75a" stroke-width=".9"><circle cx="-2.3" cy="1" r="1.9"/><circle cx="2.3" cy="1" r="1.9"/><path d="M-2.3 1l1.5-3h2.6l.5 3M-.8-2l1.6 3"/></g></g>
<g transform="translate(624 277.5)"><circle r="8" fill="#fff"/><circle r="6.4" fill="#16142a"/><g fill="none" stroke="#c7a75a" stroke-width=".9"><circle cx="-2.3" cy="1" r="1.9"/><circle cx="2.3" cy="1" r="1.9"/><path d="M-2.3 1l1.5-3h2.6l.5 3M-.8-2l1.6 3"/></g></g>
<g transform="translate(551.5 312)"><circle r="8" fill="#fff"/><circle r="6.4" fill="#16142a"/><g fill="none" stroke="#c7a75a" stroke-width=".9"><circle cx="-2.3" cy="1" r="1.9"/><circle cx="2.3" cy="1" r="1.9"/><path d="M-2.3 1l1.5-3h2.6l.5 3M-.8-2l1.6 3"/></g></g>
<g transform="translate(403 298)"><circle r="8" fill="#fff"/><circle r="6.4" fill="#16142a"/><g fill="none" stroke="#c7a75a" stroke-width=".9"><circle cx="-2.3" cy="1" r="1.9"/><circle cx="2.3" cy="1" r="1.9"/><path d="M-2.3 1l1.5-3h2.6l.5 3M-.8-2l1.6 3"/></g></g>
<g transform="translate(434 355.5)"><circle r="8" fill="#fff"/><circle r="6.4" fill="#16142a"/><g fill="none" stroke="#c7a75a" stroke-width=".9"><circle cx="-2.3" cy="1" r="1.9"/><circle cx="2.3" cy="1" r="1.9"/><path d="M-2.3 1l1.5-3h2.6l.5 3M-.8-2l1.6 3"/></g></g>
<g transform="translate(393 387.5)"><circle r="8" fill="#fff"/><circle r="6.4" fill="#16142a"/><g fill="none" stroke="#c7a75a" stroke-width=".9"><circle cx="-2.3" cy="1" r="1.9"/><circle cx="2.3" cy="1" r="1.9"/><path d="M-2.3 1l1.5-3h2.6l.5 3M-.8-2l1.6 3"/></g></g>
<g transform="translate(317 386)"><circle r="8" fill="#fff"/><circle r="6.4" fill="#16142a"/><g fill="none" stroke="#c7a75a" stroke-width=".9"><circle cx="-2.3" cy="1" r="1.9"/><circle cx="2.3" cy="1" r="1.9"/><path d="M-2.3 1l1.5-3h2.6l.5 3M-.8-2l1.6 3"/></g></g>
<g transform="translate(600 392.8)"><circle r="8" fill="#fff"/><circle r="6.4" fill="#16142a"/><g fill="none" stroke="#c7a75a" stroke-width=".9"><circle cx="-2.3" cy="1" r="1.9"/><circle cx="2.3" cy="1" r="1.9"/><path d="M-2.3 1l1.5-3h2.6l.5 3M-.8-2l1.6 3"/></g></g>
<g transform="translate(546 414.7)"><circle r="8" fill="#fff"/><circle r="6.4" fill="#16142a"/><g fill="none" stroke="#c7a75a" stroke-width=".9"><circle cx="-2.3" cy="1" r="1.9"/><circle cx="2.3" cy="1" r="1.9"/><path d="M-2.3 1l1.5-3h2.6l.5 3M-.8-2l1.6 3"/></g></g>
<g transform="translate(443 466)"><circle r="8" fill="#fff"/><circle r="6.4" fill="#16142a"/><g fill="none" stroke="#c7a75a" stroke-width=".9"><circle cx="-2.3" cy="1" r="1.9"/><circle cx="2.3" cy="1" r="1.9"/><path d="M-2.3 1l1.5-3h2.6l.5 3M-.8-2l1.6 3"/></g></g>
<g transform="translate(518 476.5)"><circle r="8" fill="#fff"/><circle r="6.4" fill="#16142a"/><g fill="none" stroke="#c7a75a" stroke-width=".9"><circle cx="-2.3" cy="1" r="1.9"/><circle cx="2.3" cy="1" r="1.9"/><path d="M-2.3 1l1.5-3h2.6l.5 3M-.8-2l1.6 3"/></g></g>
<g transform="translate(630 487)"><circle r="8" fill="#fff"/><circle r="6.4" fill="#16142a"/><g fill="none" stroke="#c7a75a" stroke-width=".9"><circle cx="-2.3" cy="1" r="1.9"/><circle cx="2.3" cy="1" r="1.9"/><path d="M-2.3 1l1.5-3h2.6l.5 3M-.8-2l1.6 3"/></g></g>
<g transform="translate(608 564)"><circle r="8" fill="#fff"/><circle r="6.4" fill="#16142a"/><g fill="none" stroke="#c7a75a" stroke-width=".9"><circle cx="-2.3" cy="1" r="1.9"/><circle cx="2.3" cy="1" r="1.9"/><path d="M-2.3 1l1.5-3h2.6l.5 3M-.8-2l1.6 3"/></g></g>
<g transform="translate(614 609.7)"><circle r="8" fill="#fff"/><circle r="6.4" fill="#16142a"/><g fill="none" stroke="#c7a75a" stroke-width=".9"><circle cx="-2.3" cy="1" r="1.9"/><circle cx="2.3" cy="1" r="1.9"/><path d="M-2.3 1l1.5-3h2.6l.5 3M-.8-2l1.6 3"/></g></g>
<g transform="translate(703 620)"><circle r="8" fill="#fff"/><circle r="6.4" fill="#16142a"/><g fill="none" stroke="#c7a75a" stroke-width=".9"><circle cx="-2.3" cy="1" r="1.9"/><circle cx="2.3" cy="1" r="1.9"/><path d="M-2.3 1l1.5-3h2.6l.5 3M-.8-2l1.6 3"/></g></g>
<g transform="translate(746 667.5)"><circle r="8" fill="#fff"/><circle r="6.4" fill="#16142a"/><g fill="none" stroke="#c7a75a" stroke-width=".9"><circle cx="-2.3" cy="1" r="1.9"/><circle cx="2.3" cy="1" r="1.9"/><path d="M-2.3 1l1.5-3h2.6l.5 3M-.8-2l1.6 3"/></g></g>
<g transform="translate(790 734)"><circle r="8" fill="#fff"/><circle r="6.4" fill="#16142a"/><g fill="none" stroke="#c7a75a" stroke-width=".9"><circle cx="-2.3" cy="1" r="1.9"/><circle cx="2.3" cy="1" r="1.9"/><path d="M-2.3 1l1.5-3h2.6l.5 3M-.8-2l1.6 3"/></g></g>
<g transform="translate(741 752.5)"><circle r="8" fill="#fff"/><circle r="6.4" fill="#16142a"/><g fill="none" stroke="#c7a75a" stroke-width=".9"><circle cx="-2.3" cy="1" r="1.9"/><circle cx="2.3" cy="1" r="1.9"/><path d="M-2.3 1l1.5-3h2.6l.5 3M-.8-2l1.6 3"/></g></g>
<g transform="translate(535 759)"><circle r="8" fill="#fff"/><circle r="6.4" fill="#16142a"/><g fill="none" stroke="#c7a75a" stroke-width=".9"><circle cx="-2.3" cy="1" r="1.9"/><circle cx="2.3" cy="1" r="1.9"/><path d="M-2.3 1l1.5-3h2.6l.5 3M-.8-2l1.6 3"/></g></g>
<g transform="translate(376 368)"><path d="M0 12C-3 8-8 4.5-8 0a8 8 0 0 1 16 0c0 4.5-5 8-8 12z" fill="#15141f"/><circle r="2.6" fill="#fff"/></g>
<g transform="translate(627 52)"><circle r="11" fill="#fff"/><circle r="9.2" fill="#e9650f"/><path d="M-2.2 5V-4.6h3.2a3.4 3.4 0 0 1 0 6.8h-3.2" fill="none" stroke="#fff" stroke-width="2.3" stroke-linejoin="round"/></g>
<g transform="translate(617.4 147.6)"><circle r="11" fill="#fff"/><circle r="9.2" fill="#e9650f"/><path d="M-2.2 5V-4.6h3.2a3.4 3.4 0 0 1 0 6.8h-3.2" fill="none" stroke="#fff" stroke-width="2.3" stroke-linejoin="round"/></g>
<g transform="translate(647 514.4)"><circle r="11" fill="#fff"/><circle r="9.2" fill="#e9650f"/><path d="M-2.2 5V-4.6h3.2a3.4 3.4 0 0 1 0 6.8h-3.2" fill="none" stroke="#fff" stroke-width="2.3" stroke-linejoin="round"/></g>
</svg></div><!--/map-->
<div class="abs" style="left:830px;top:61.5px;width:31px;height:31px;border-radius:3px;background:#0b4f7e;box-shadow:0 1px 2px rgba(0,0,0,.25);z-index:3">
  <svg width="31" height="31" viewBox="0 0 31 31"><path d="M15.5 9.5l6 3.3-6 3.3-6-3.3z" fill="none" stroke="#fff" stroke-width="1.6" stroke-linejoin="round"/><path d="M9.5 16.2l6 3.3 6-3.3" fill="none" stroke="#fff" stroke-width="1.6" stroke-linejoin="round"/></svg>
</div>
<div class="abs" style="left:871.5px;top:61.5px;width:34px;height:31px;border-radius:3px 0 0 3px;background:#0b4f7e;z-index:3">
  <svg width="34" height="31" viewBox="0 0 34 31"><g stroke="#fff" stroke-width="1.4" fill="none"><path d="M9.5 11h13M9.5 15.5h13M9.5 20h13"/></g><g fill="#0b4f7e" stroke="#fff" stroke-width="1.3"><circle cx="18.5" cy="11" r="1.7"/><circle cx="13" cy="15.5" r="1.7"/><circle cx="18.5" cy="20" r="1.7"/></g></svg>
</div>
<div class="abs" style="left:612px;top:530.4px;width:139px;height:50.4px;border-radius:3px;background:#0b3a5e;box-shadow:0 1px 4px rgba(0,0,0,.3);z-index:3">
  <div class="t" style="left:12px;top:10.5px;font-size:10.5px;color:#fff">SC 2932 (Ciudad Jardín)</div>
  <div class="t" style="left:12px;top:26.5px;font-size:14px;font-weight:bold;color:#fff">123</div>
  <div class="t" style="left:39px;top:29.5px;font-size:10.5px;color:#a9bccb">desplazamientos</div>
</div>
<svg class="abs" style="left:608px;top:584px;z-index:3" width="13" height="15" viewBox="0 0 13 15"><path d="M2.8 1.6Q3.7 0.2 4.6 1.6L4.8 6.1Q5.7 5.3 6.7 6.1Q7.7 5.6 8.6 6.5Q9.7 6.1 10.5 7.1L11.3 9.6Q11.4 12.2 9.9 13.8L4.9 13.8L1.1 9.3Q0.4 8.2 1.5 7.8L2.9 8.8Z" fill="#fff" stroke="#111" stroke-width=".8" stroke-linejoin="round"/><path d="M6.2 10v2.3M7.7 10v2.3M9.1 10v2.3" stroke="#555" stroke-width=".6"/></svg>
<div class="abs" style="left:267px;top:731px;width:66px;height:33px;border-radius:3px;background:#fff;box-shadow:0 1px 3px rgba(0,0,0,.2);z-index:3">
  <div class="abs" style="left:33px;top:0;width:1px;height:33px;background:#e6e6e6"></div>
  <div class="abs" style="left:11px;top:16px;width:11px;height:1.6px;background:#222"></div>
  <div class="abs" style="left:44px;top:16px;width:11px;height:1.6px;background:#222"></div>
  <div class="abs" style="left:48.7px;top:11.3px;width:1.6px;height:11px;background:#222"></div>
</div>
<div class="abs" style="left:342.5px;top:731px;width:32px;height:33px;border-radius:3px;background:#fff;box-shadow:0 1px 3px rgba(0,0,0,.2);z-index:3">
  <svg width="32" height="33" viewBox="0 0 32 33"><circle cx="14.5" cy="15" r="4.3" fill="none" stroke="#222" stroke-width="1.7"/><path d="M17.6 18.2l3.6 3.6" stroke="#222" stroke-width="1.9" stroke-linecap="round"/></svg>
</div>

<div id="rb"></div>
<div id="right">
  <div class="t" style="left:18.3px;top:70.6px;font-size:14px;color:#e6eef5">Filtros de movilidad</div>
  <svg class="abs" style="left:166px;top:70.5px" width="15" height="15" viewBox="0 0 15 15"><circle cx="7.5" cy="7.5" r="6.2" fill="none" stroke="#8aa3b8" stroke-width="1.3"/><circle cx="7.5" cy="4.6" r=".95" fill="#8aa3b8"/><path d="M6.4 6.8h1.7v4.3M6.3 11.1h2.8" stroke="#8aa3b8" stroke-width="1.3" fill="none"/></svg>
  <div class="abs" style="left:0;top:103px;width:196px;height:1px;background:#1e4c6e"></div>
  <svg class="abs" style="left:20px;top:122px" width="14" height="14" viewBox="0 0 14 14"><rect x=".8" y="2" width="12.4" height="11.2" rx="1.2" fill="none" stroke="#a9bccb" stroke-width="1.5"/><path d="M.8 5.2h12.4" stroke="#a9bccb" stroke-width="2"/><path d="M3.8 .3v3M10.2 .3v3" stroke="#a9bccb" stroke-width="1.5"/><rect x="3" y="8" width="2.2" height="2" fill="#a9bccb"/><rect x="8.8" y="8" width="2.2" height="2" fill="#a9bccb"/></svg>
  <div class="t" style="left:41.4px;top:122.6px;font-size:12.3px;font-weight:bold;color:#fff">9/09/2019 – 22/09/2019</div>
  <div class="t" style="left:41.4px;top:141.5px;font-size:9.5px;font-weight:bold;color:#a9bccb">14 días</div>
  <svg class="abs" style="left:22px;top:180px" width="10" height="11" viewBox="0 0 10 11"><path d="M7 1L3 5.5 7 10" stroke="#fff" stroke-width="2" fill="none"/></svg>
  <div class="t" style="left:49.5px;top:179.3px;font-size:12px;font-weight:bold;color:#fff">Septiembre</div>
  <div class="t" style="left:122.3px;top:179.3px;font-size:12px;font-weight:bold;color:#fff">2019</div>
  <svg class="abs" style="left:167px;top:180px" width="10" height="11" viewBox="0 0 10 11"><path d="M3 1l4 4.5L3 10" stroke="#fff" stroke-width="2" fill="none"/></svg>
  <div class="dh" style="left:8.3px">Lun</div><div class="dh" style="left:34.2px">Mar</div><div class="dh" style="left:60.1px">Mie</div><div class="dh" style="left:86.0px">Jue</div><div class="dh" style="left:111.9px">Vie</div><div class="dh" style="left:137.8px">Sab</div><div class="dh" style="left:163.7px">Dom</div>
  <div class="orow" style="left:10.8px;top:291.7px"></div>
  <div class="orow" style="left:10.8px;top:317.5px"></div>
  <div class="cal" style="left:10.3px;top:240.0px">26</div><div class="cal" style="left:36.2px;top:240.0px">27</div><div class="cal" style="left:62.1px;top:240.0px">28</div><div class="cal" style="left:88.0px;top:240.0px">29</div><div class="cal" style="left:113.9px;top:240.0px">30</div><div class="cal" style="left:139.8px;top:240.0px">31</div><div class="cal b" style="left:165.7px;top:240.0px">1</div><div class="cal b" style="left:10.3px;top:266.0px">2</div><div class="cal b" style="left:36.2px;top:266.0px">3</div><div class="cal b" style="left:62.1px;top:266.0px">4</div><div class="cal b" style="left:88.0px;top:266.0px">5</div><div class="cal b" style="left:113.9px;top:266.0px">6</div><div class="cal b" style="left:139.8px;top:266.0px">7</div><div class="cal b" style="left:165.7px;top:266.0px">8</div><div class="cal" style="left:10.3px;top:292.0px;color:#fff3e6">9</div><div class="cal" style="left:36.2px;top:292.0px;color:#fff3e6">10</div><div class="cal" style="left:62.1px;top:292.0px;color:#fff3e6">11</div><div class="cal" style="left:88.0px;top:292.0px;color:#fff3e6">12</div><div class="cal" style="left:113.9px;top:292.0px;color:#fff3e6">13</div><div class="cal" style="left:139.8px;top:292.0px;color:#fff3e6">14</div><div class="cal" style="left:165.7px;top:292.0px;color:#fff3e6">15</div><div class="cal" style="left:10.3px;top:318.0px;color:#fff3e6">16</div><div class="cal" style="left:36.2px;top:318.0px;color:#fff3e6">17</div><div class="cal" style="left:62.1px;top:318.0px;color:#fff3e6">18</div><div class="cal" style="left:88.0px;top:318.0px;color:#fff3e6">19</div><div class="cal" style="left:113.9px;top:318.0px;color:#fff3e6">20</div><div class="cal" style="left:139.8px;top:318.0px;color:#fff3e6">21</div><div class="cal" style="left:165.7px;top:318.0px;color:#fff3e6">22</div><div class="cal b" style="left:10.3px;top:344.0px">23</div><div class="cal b" style="left:36.2px;top:344.0px">24</div><div class="cal b" style="left:62.1px;top:344.0px">25</div><div class="cal b" style="left:88.0px;top:344.0px">26</div><div class="cal b" style="left:113.9px;top:344.0px">27</div><div class="cal b" style="left:139.8px;top:344.0px">28</div><div class="cal b" style="left:165.7px;top:344.0px">29</div><div class="cal b" style="left:10.3px;top:370.0px">30</div><div class="cal" style="left:36.2px;top:370.0px">1</div><div class="cal" style="left:62.1px;top:370.0px">2</div><div class="cal" style="left:88.0px;top:370.0px">3</div><div class="cal" style="left:113.9px;top:370.0px">4</div><div class="cal" style="left:139.8px;top:370.0px">5</div><div class="cal" style="left:165.7px;top:370.0px">6</div>
  <div class="abs" style="left:0;top:410.5px;width:196px;height:1px;background:#1e4c6e"></div>
  <svg class="abs" style="left:19px;top:429px" width="16" height="16" viewBox="0 0 16 16"><circle cx="8" cy="8" r="6.8" fill="none" stroke="#a9bccb" stroke-width="1.5"/><path d="M8 4v4.3h3" stroke="#a9bccb" stroke-width="1.5" fill="none"/></svg>
  <div class="t" style="left:41.5px;top:430.6px;font-size:11.4px;font-weight:bold;color:#fff">Todo el día (24 h)</div>
  <div class="abs" style="left:157.7px;top:430.5px;width:22px;height:12px;border-radius:6px;background:#5e7891"></div>
  <div class="abs" style="left:159px;top:431.8px;width:9.5px;height:9.5px;border-radius:50%;background:#fff"></div>
  <div class="t" style="left:18.8px;top:462.1px;font-size:9.7px;font-weight:bold;color:#a9bccb">Momento del día (1 h)</div>
  <svg class="abs" style="left:31px;top:490px" width="10" height="11" viewBox="0 0 10 11"><path d="M7 1L3 5.5 7 10" stroke="#fff" stroke-width="2" fill="none"/></svg>
  <div class="t" style="left:61px;top:489.6px;font-size:12px;font-weight:bold;color:#fff">08:00 – 09:00</div>
  <svg class="abs" style="left:160px;top:490px" width="10" height="11" viewBox="0 0 10 11"><path d="M3 1l4 4.5L3 10" stroke="#fff" stroke-width="2" fill="none"/></svg>
  <div class="abs" style="left:0;top:531px;width:196px;height:1px;background:#1e4c6e"></div>
  <svg class="abs" style="left:18px;top:549px" width="18" height="16" viewBox="0 0 18 16"><circle cx="6.5" cy="4.5" r="3.2" fill="none" stroke="#a9bccb" stroke-width="1.4"/><path d="M1 14.5c0-3.5 2.3-5 5.5-5s5.5 1.5 5.5 5z" fill="none" stroke="#a9bccb" stroke-width="1.4"/><path d="M11.5 1.5a3.1 3.1 0 0 1 0 6M13.5 9.8c2 .6 3.3 2.2 3.3 4.7h-2" fill="none" stroke="#a9bccb" stroke-width="1.4"/></svg>
  <div class="t" style="left:41.5px;top:551.6px;font-size:11.3px;font-weight:bold;color:#fff">Toda la población</div>
  <div class="abs" style="left:157px;top:551px;width:23px;height:12.5px;border-radius:6.5px;background:#f07f0a"></div>
  <div class="abs" style="left:168.5px;top:552.5px;width:9.5px;height:9.5px;border-radius:50%;background:#fff"></div>
  <div class="abs" style="left:18.8px;top:582.5px;width:178px;font-size:9.6px;font-weight:bold;color:#c4d2de;line-height:12.9px">La población será considerada<br>como todos los residentes,<br>viajeros o turistas, sin hacer<br>ninguna distinción por género o<br>edad. Si desea refinar su consulta,<br>desmarque esta opción.</div>
</div>
</body></html>
